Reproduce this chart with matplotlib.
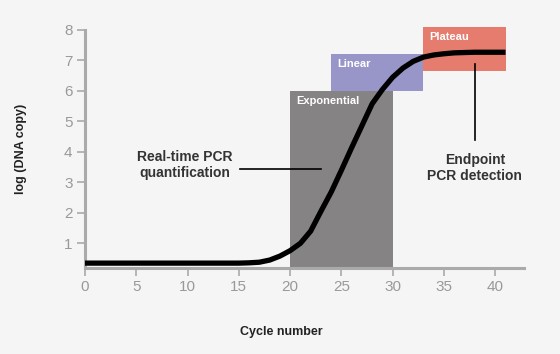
import matplotlib
matplotlib.use("Agg")
import matplotlib.pyplot as plt
from matplotlib.patches import Rectangle

plt.rcParams['font.family'] = ['Liberation Sans', 'DejaVu Sans']

# Data
cycles = [0, 5, 10, 15, 16, 17, 18, 19, 20, 21, 22, 23, 24, 25, 26, 27, 28,
          29, 30, 31, 32, 33, 34, 35, 36, 38, 41]
log_copy = [0.35, 0.35, 0.35, 0.35, 0.36, 0.38, 0.45, 0.58, 0.76, 1.0, 1.4,
            2.05, 2.68, 3.4, 4.14, 4.86, 5.58, 6.05, 6.45, 6.75, 6.97, 7.11,
            7.18, 7.22, 7.25, 7.27, 7.27]

phase_names = ["Exponential", "Linear", "Plateau"]
phase_x0 = [20, 24, 33]
phase_x1 = [30, 33, 41]
phase_y0 = [0.2, 6.0, 6.67]
phase_y1 = [6.0, 7.2, 8.1]
phase_colors = ["#858384", "#9896c9", "#e57c6e"]

x_ticks = [0, 5, 10, 15, 20, 25, 30, 35, 40]
y_ticks = [1, 2, 3, 4, 5, 6, 7, 8]

bg = "#f5f5f5"
fig = plt.figure(figsize=(5.6, 3.54), dpi=100, facecolor=bg)
ax = fig.add_axes([0.1518, 0.2438, 0.9357 - 0.1518, 0.9153 - 0.2438])
ax.set_facecolor(bg)

for name, x0, x1, y0, y1, c in zip(phase_names, phase_x0, phase_x1,
                                    phase_y0, phase_y1, phase_colors):
    ax.add_patch(Rectangle((x0, y0), x1 - x0, y1 - y0, facecolor=c,
                           edgecolor='none', zorder=1, clip_on=False))
    ax.text(x0 + 0.6, y1 - 0.32, name, color='white', fontsize=8,
            fontweight='bold', ha='left', va='center', zorder=3)

ax.plot(cycles, log_copy, color='black', lw=3.8, zorder=4,
        solid_capstyle='butt', solid_joinstyle='round', clip_on=False)

# annotations
ax.plot([15.1, 23.0], [3.43, 3.43], color='black', lw=1.2, zorder=5)
ax.text(9.7, 3.57, "Real-time PCR\nquantification", ha='center', va='center',
        fontsize=10, fontweight='bold', color='#333333', linespacing=1.15)
ax.plot([38, 38], [6.9, 4.4], color='black', lw=1.2, zorder=5)
ax.text(38, 3.48, "Endpoint\nPCR detection", ha='center', va='center',
        fontsize=10, fontweight='bold', color='#333333', linespacing=1.15)

ax.set_xlim(0, 42.8)
ax.set_ylim(0.2, 8)
ax.set_xticks(x_ticks)
ax.set_yticks(y_ticks)
for s in ['top', 'right']:
    ax.spines[s].set_visible(False)
for s in ['left', 'bottom']:
    ax.spines[s].set_color('#aaaaaa')
    ax.spines[s].set_linewidth(2.2)
ax.tick_params(axis='both', colors='#aaaaaa', labelcolor='#999999',
               labelsize=11, length=6, width=1.2, pad=3)

ax.set_xlabel("Cycle number", fontsize=9, fontweight='bold', color='#222222')
ax.set_ylabel("log (DNA copy)", fontsize=9, fontweight='bold', color='#222222')
ax.yaxis.set_label_coords(-0.133, 0.50)
ax.xaxis.set_label_coords(0.447, -0.245)

fig.savefig("out.png", dpi=100, facecolor=bg)
